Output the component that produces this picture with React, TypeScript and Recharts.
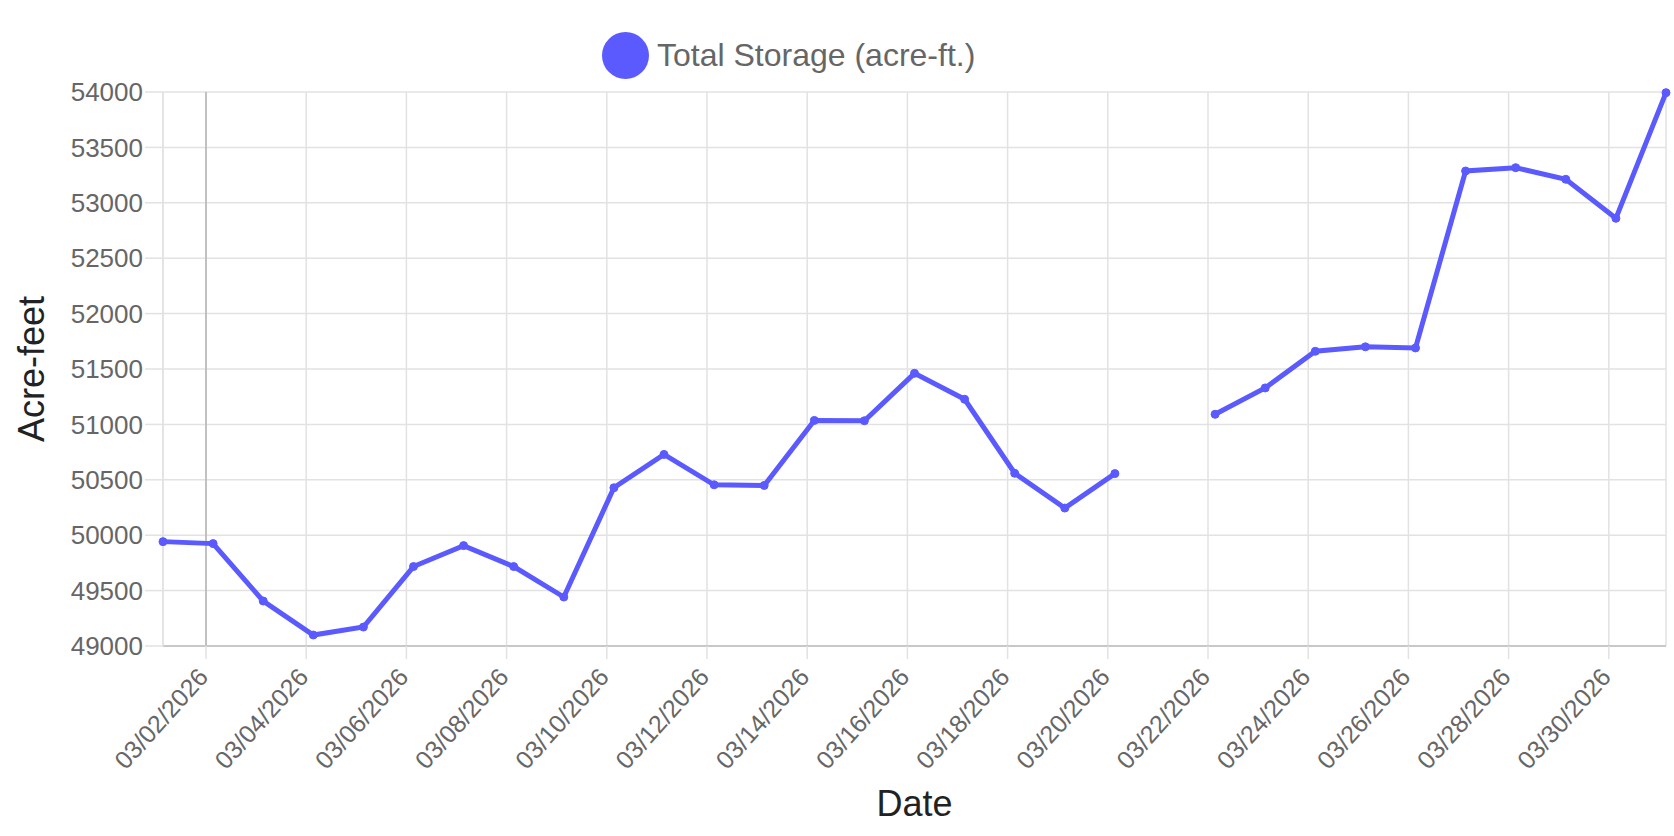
import React from 'react';
import { LineChart, Line, XAxis, YAxis, CartesianGrid, ReferenceLine } from 'recharts';

// daily reservoir readings, March 2026 (reading taken early morning UTC)
const days = [1, 2, 3, 4, 5, 6, 7, 8, 9, 10, 11, 12, 13, 14, 15, 16, 17, 18, 19, 20, 21, 22, 23, 24, 25, 26, 27, 28, 29, 30, 31];
const readingHour = 3.4;
const storage: (number | null)[] = [
  49942, 49924, 49406, 49099, 49171, 49717, 49906, 49717, 49442, 50428,
  50729, 50455, 50449, 51036, 51033, 51461, 51227, 50559, 50245, 50556,
  null, 51091, 51329, 51660, 51700, 51690, 53287, 53317, 53212, 52860,
  53994,
];
const tickDays = [2, 4, 6, 8, 10, 12, 14, 16, 18, 20, 22, 24, 26, 28, 30];
const yTicks = [49000, 49500, 50000, 50500, 51000, 51500, 52000, 52500, 53000, 53500, 54000];

const toTime = (day: number, hour = 0) => Date.UTC(2026, 2, day) + hour * 3600 * 1000;

const data = days.map((d, i) => ({ t: toTime(d, readingHour), storage: storage[i] }));
const xTicks = tickDays.map(d => toTime(d));

const fmtDate = (v: number) => {
  const dt = new Date(v);
  const mm = String(dt.getUTCMonth() + 1).padStart(2, '0');
  const dd = String(dt.getUTCDate()).padStart(2, '0');
  return `${mm}/${dd}/${dt.getUTCFullYear()}`;
};

const FONT = "'Liberation Sans', Arial, Helvetica, sans-serif";
const LINE_COLOR = '#5A5AFF';
const GRID = '#e2e2e2';

const DateTick = ({ x, y, payload }: any) => {
  const px = x - 3;
  const py = y + 11;
  return (
    <text
      x={px}
      y={py}
      dy="0.35em"
      textAnchor="end"
      fill="#666"
      fontSize={25}
      fontFamily={FONT}
      transform={`rotate(-48, ${px}, ${py})`}
    >
      {fmtDate(payload.value)}
    </text>
  );
};

export default function App() {
  return (
    <div style={{ position: 'absolute', left: 0, top: 0, width: 1674, height: 836, background: '#fff', fontFamily: FONT }}>
      {/* legend */}
      <div style={{ position: 'absolute', left: 602, top: 32, height: 47, display: 'flex', alignItems: 'center' }}>
        <div style={{ width: 47, height: 47, borderRadius: '50%', background: LINE_COLOR }} />
        <span style={{ marginLeft: 8, fontSize: 32, color: '#666' }}>Total Storage (acre-ft.)</span>
      </div>
      <LineChart width={1674} height={836} data={data} margin={{ top: 92, right: 8, bottom: 0, left: 0 }}>
        <CartesianGrid stroke={GRID} strokeWidth={1.5} />
        <XAxis
          dataKey="t"
          type="number"
          domain={['dataMin', 'dataMax']}
          ticks={xTicks}
          interval={0}
          height={190}
          tickSize={13}
          tick={<DateTick />}
          tickLine={{ stroke: GRID, strokeWidth: 1.5 }}
          axisLine={{ stroke: '#c8c8c8', strokeWidth: 2 }}
          label={{ value: 'Date', position: 'insideBottom', offset: 20, fontSize: 36, fill: '#222', fontFamily: FONT }}
        />
        <YAxis
          domain={[49000, 54000]}
          ticks={yTicks}
          interval={0}
          width={163}
          tickSize={18}
          tickMargin={2}
          tick={{ fill: '#666', fontSize: 26, fontFamily: FONT }}
          tickLine={{ stroke: GRID, strokeWidth: 1.5 }}
          axisLine={{ stroke: GRID, strokeWidth: 1.5 }}
          label={{ value: 'Acre-feet', angle: -90, position: 'insideLeft', offset: 31, fontSize: 36, fill: '#222', fontFamily: FONT, style: { textAnchor: 'middle' } }}
        />
        <ReferenceLine x={xTicks[0]} stroke="#b3b3b3" strokeWidth={1.5} />
        <Line
          type="linear"
          dataKey="storage"
          stroke={LINE_COLOR}
          strokeWidth={5}
          dot={{ r: 4, fill: LINE_COLOR, stroke: LINE_COLOR, strokeWidth: 1 }}
          activeDot={false}
          connectNulls={false}
          isAnimationActive={false}
        />
      </LineChart>
    </div>
  );
}
